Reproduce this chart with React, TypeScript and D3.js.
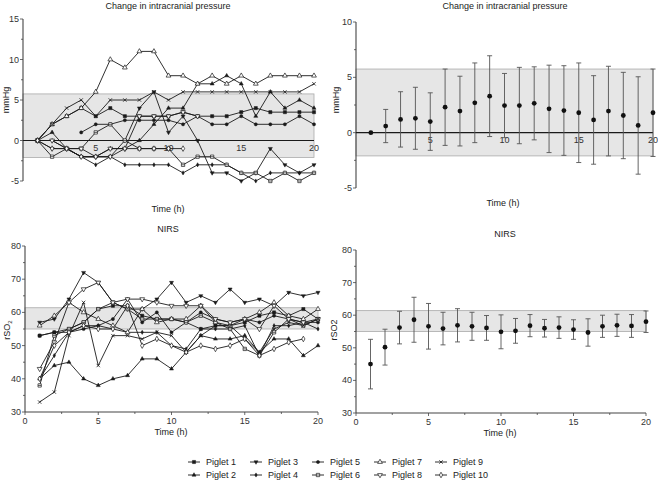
import React from "react";
import * as d3 from "d3";

const hours = d3.range(1, 21);

// change in ICP per piglet (mmHg), hours 1..20
const icp1 = [0, 2, 3, 4, 3, 4, 3, 3, 3, 3, 3.5, 3, 3, 3, 3.5, 4, 3.5, 3.5, 3.5, 3.5];
const icp2 = [0, 1, -1, -2, -2, -1, -1, 0, 2, 4, 4, 7, 7, 8, 7, 3, 6, 4, 5, 4];
const icp3 = [0, -1, -1, -2, -2, -2, 0, 4, 6, 1, 3, 0, -4, -4, -5, -4, -1, -3, -4, -3];
const icp4 = [0, 0, -1, -2, -3, -2, -3, -3, -3, -3, -4, -3, -3, -3, -4, -5, -4, -4, -4, -4];
const icp5 = [null, null, null, 1, 2, 2, 2.5, 2.5, 2.5, 2.5, 2, 3, 2, 2, 3, 2, 2, 2, 3, 2];
const icp6 = [0, -2, -1, -1, 1, 2, 0, -1, -1, -1, -3, -2, -2, -3, -4, -4, -5, -4, -5, -4];
const icp7 = [0, 2, 3, 4, 6, 10, 9, 11, 11, 8, 8, 7, 8, 7, 8, 7, 8, 8, 8, 8];
const icp8 = [0, 0, -1, -1, -2, -1, -1, 3, 3, 3, 3.5, 3, null, null, null, null, null, null, null, null];
const icp9 = [0, 2, 4, 5, 3, 5, 5, 5, 6, 5, 6, 6, 6, 6, 6, 6, 6, 6, 6, 7];
const icp10 = [0, -1, -1, -2, -2, -2, -1, -1, -1, -1, -1, null, null, null, null, null, null, null, null, null];

// NIRS rSO2 per piglet
const nirs1 = [53, 54, 55, 57, 61, 62, 62, 59, 58, 58, 57, 55, 56, 56, 57, 59, 60, 59, 61, 58];
const nirs2 = [40, 44, 45, 40, 38, 40, 41, 46, 46, 43, 48, 53, 52, 52, 53, 48, 52, 52, 47, 50];
const nirs3 = [57, 58, 64, 72, 69, 63, 61, 61, 64, 69, 63, 65, 63, 67, 63, 64, 62, 66, 65, 66];
const nirs4 = [40, 47, 54, 56, 56, 55, 54, 54, 54, 50, 49, 55, 55, 55, 56, 47, 56, 56, 57, 55];
const nirs5 = [53, 54, 54, 55, 56, 58, 64, 57, 60, 54, 57, 60, 58, 57, 58, 57, 59, 58, 57, 57];
const nirs6 = [38, 53, 55, 57, 61, 63, 61, 58, 58, 58, 57, 59, 57, 55, 49, 47, 54, 58, 56, 58];
const nirs7 = [56, 59, 63, 60, 58, 56, 54, 61, 57, 58, 58, 62, 57, 56, 58, 60, 63, 59, 58, 61];
const nirs8 = [43, 51, 63, 67, 69, 63, 64, 64, 63, 62, 62, 62, 58, 57, 58, 55, 62, 58, 57, 58];
const nirs9 = [33, 36, 53, 63, 44, 53, 53, 52, 54, 53, 48, 53, 56, 56, 52, 48, 55, 57, 56, 58];
const nirs10 = [40, 50, 54, 56, 55, 55, 62, 50, 52, 50, 48, 50, 49, 50, 52, 47, 49, 51, 52, null];

// group mean and SD
const icpMean = [0, 0.6, 1.2, 1.3, 1.0, 2.3, 1.95, 2.7, 3.3, 2.45, 2.45, 2.65, 2.15, 2.0, 1.8, 1.15, 1.95, 1.55, 0.65, 1.8];
const icpSd = [0, 1.5, 2.5, 2.8, 2.6, 3.45, 3.15, 3.6, 3.65, 2.9, 3.45, 3.3, 3.95, 4.05, 4.5, 4.0, 4.05, 3.9, 4.4, 3.95];
const nirsMean = [45, 50.2, 56.2, 58.6, 56.6, 55.9, 56.9, 56.6, 56.1, 54.9, 55.2, 56.8, 56, 56.2, 55.6, 54.7, 56.6, 56.9, 56.7, 58];
const nirsSd = [7.6, 5.5, 5, 6.9, 7, 5, 5.1, 4.3, 3.8, 5.2, 3.8, 3.4, 2.7, 3.3, 3, 4.2, 3.4, 3.4, 3.5, 3.3];

const piglets = ["Piglet 1", "Piglet 2", "Piglet 3", "Piglet 4", "Piglet 5", "Piglet 6", "Piglet 7", "Piglet 8", "Piglet 9", "Piglet 10"];
const icpSeries = [icp1, icp2, icp3, icp4, icp5, icp6, icp7, icp8, icp9, icp10];
const nirsSeries = [nirs1, nirs2, nirs3, nirs4, nirs5, nirs6, nirs7, nirs8, nirs9, nirs10];

const icpBand = [-2.1, 5.75];
const nirsBand = [55, 61.4];

const FONT = "Liberation Sans, Arial, sans-serif";
const INK = "#1a1a1a";

const Marker = ({ i, x, y }: { i: number; x: number; y: number }) => {
  const t = `translate(${x},${y})`;
  const filled = { fill: INK, stroke: INK, strokeWidth: 0.5 };
  const open = { fill: "#fff", stroke: INK, strokeWidth: 0.7 };
  switch (i) {
    case 0:
      return <path transform={t} d={d3.symbol(d3.symbolSquare, 10)()!} {...filled} />;
    case 1:
      return <path transform={t} d={d3.symbol(d3.symbolTriangle, 7)()!} {...filled} />;
    case 2:
      return <path transform={t + " rotate(180)"} d={d3.symbol(d3.symbolTriangle, 7)()!} {...filled} />;
    case 3:
      return <path transform={t} d={d3.symbol(d3.symbolDiamond, 5)()!} {...filled} />;
    case 4:
      return <path transform={t} d={d3.symbol(d3.symbolCircle, 8)()!} {...filled} />;
    case 5:
      return (
        <g transform={t}>
          <path d={d3.symbol(d3.symbolSquare, 11)()!} {...open} />
          <line x1={-1.6} x2={1.6} y1={0} y2={0} stroke={INK} strokeWidth={0.7} />
        </g>
      );
    case 6:
      return <path transform={t} d={d3.symbol(d3.symbolTriangle, 10)()!} {...open} />;
    case 7:
      return <path transform={t + " rotate(180)"} d={d3.symbol(d3.symbolTriangle, 10)()!} {...open} />;
    case 8:
      return <path transform={t} d={d3.symbol(d3.symbolX, 9)()!} fill="none" stroke={INK} strokeWidth={0.8} />;
    default:
      return <path transform={t} d={d3.symbol(d3.symbolDiamond, 9)()!} {...open} />;
  }
};

const YAxis = ({ y, x, ticks, minor }: { y: d3.ScaleLinear<number, number>; x: number; ticks: number[]; minor: number[] }) => (
  <g fontFamily={FONT} fontSize={9} fill="#333">
    <line x1={x} x2={x} y1={y.range()[0]} y2={y.range()[1]} stroke="#444" strokeWidth={1.1} />
    {minor.map((t) => (
      <line key={"m" + t} x1={x - 2} x2={x} y1={y(t)} y2={y(t)} stroke="#444" strokeWidth={0.8} />
    ))}
    {ticks.map((t) => (
      <g key={t}>
        <line x1={x - 3} x2={x} y1={y(t)} y2={y(t)} stroke="#444" strokeWidth={0.8} />
        <text x={x - 4} y={y(t) + 3} textAnchor="end">
          {t}
        </text>
      </g>
    ))}
  </g>
);

const XAxisZero = ({ x, y0 }: { x: d3.ScaleLinear<number, number>; y0: number }) => (
  <g fontFamily={FONT} fontSize={9} fill="#333">
    <line x1={x(0)} x2={x(20)} y1={y0} y2={y0} stroke={INK} strokeWidth={1.1} />
    {[5, 10, 15, 20].map((t) => (
      <text key={t} x={x(t)} y={y0 + 10} textAnchor="middle">
        {t}
      </text>
    ))}
  </g>
);

const XAxisBottom = ({ x, y0 }: { x: d3.ScaleLinear<number, number>; y0: number }) => (
  <g fontFamily={FONT} fontSize={9} fill="#333">
    <line x1={x(0)} x2={x(20)} y1={y0} y2={y0} stroke="#444" strokeWidth={1.1} />
    {d3.range(0, 20.1, 2.5).map((t) => (
      <line key={"m" + t} x1={x(t)} x2={x(t)} y1={y0} y2={y0 + (t % 5 === 0 ? 3 : 2)} stroke="#444" strokeWidth={0.8} />
    ))}
    {[0, 5, 10, 15, 20].map((t) => (
      <text key={t} x={x(t)} y={y0 + 12} textAnchor="middle">
        {t}
      </text>
    ))}
  </g>
);

const Band = ({ x, y, band }: { x: d3.ScaleLinear<number, number>; y: d3.ScaleLinear<number, number>; band: number[] }) => (
  <rect
    x={x(0)}
    width={x(20) - x(0)}
    y={y(band[1])}
    height={y(band[0]) - y(band[1])}
    fill="#e6e6e6"
    stroke="#aaa"
    strokeWidth={0.8}
  />
);

const Spaghetti = ({ x, y, series }: { x: d3.ScaleLinear<number, number>; y: d3.ScaleLinear<number, number>; series: (number | null)[][] }) => {
  const line = d3
    .line<number | null>()
    .defined((d) => d !== null)
    .x((_, i) => x(hours[i]))
    .y((d) => y(d as number));
  return (
    <g>
      {series.map((s, k) => (
        <path key={k} d={line(s)!} fill="none" stroke={INK} strokeWidth={0.9} />
      ))}
      {series.map((s, k) =>
        s.map((v, i) => (v === null ? null : <Marker key={k + "-" + i} i={k} x={x(hours[i])} y={y(v)} />))
      )}
    </g>
  );
};

const MeanSd = ({ x, y, mean, sd }: { x: d3.ScaleLinear<number, number>; y: d3.ScaleLinear<number, number>; mean: number[]; sd: number[] }) => (
  <g>
    {mean.map((m, i) => {
      const cx = x(hours[i]);
      const top = y(m + sd[i]);
      const bot = y(m - sd[i]);
      return (
        <g key={i}>
          {sd[i] > 0 && (
            <g stroke="#555" strokeWidth={0.9}>
              <line x1={cx} x2={cx} y1={top} y2={bot} />
              <line x1={cx - 2.5} x2={cx + 2.5} y1={top} y2={top} />
              <line x1={cx - 2.5} x2={cx + 2.5} y1={bot} y2={bot} />
            </g>
          )}
          <circle cx={cx} cy={y(m)} r={2.4} fill="#111" />
        </g>
      );
    })}
  </g>
);

const Title = ({ x, y, children }: { x: number; y: number; children: React.ReactNode }) => (
  <text x={x} y={y} textAnchor="middle" fontFamily={FONT} fontSize={9} fill="#222">
    {children}
  </text>
);

const YLabel = ({ x, y, children }: { x: number; y: number; children: React.ReactNode }) => (
  <text transform={`translate(${x},${y}) rotate(-90)`} textAnchor="middle" fontFamily={FONT} fontSize={9} fill="#222">
    {children}
  </text>
);

export default function App() {
  // top-left
  const xA = d3.scaleLinear().domain([0, 20]).range([23, 314]);
  const yA = d3.scaleLinear().domain([-5, 15]).range([181, 19]);
  // top-right
  const xB = d3.scaleLinear().domain([0, 20]).range([356, 653]);
  const yB = d3.scaleLinear().domain([-5, 10]).range([188, 22]);
  // bottom-left
  const xC = d3.scaleLinear().domain([0, 20]).range([25, 318]);
  const yC = d3.scaleLinear().domain([30, 80]).range([412, 246]);
  // bottom-right
  const xD = d3.scaleLinear().domain([0, 20]).range([356, 646]);
  const yD = d3.scaleLinear().domain([30, 80]).range([413, 250]);

  const legendCols = [194, 256, 318, 380, 441];
  const legendRows = [462, 475];

  return (
    <svg width={658} height={480} style={{ position: "absolute", left: 0, top: 0, background: "#fff" }}>
      {/* top-left */}
      <Title x={168} y={9}>Change in intracranial pressure</Title>
      <Band x={xA} y={yA} band={icpBand} />
      <YAxis y={yA} x={23} ticks={[-5, 0, 5, 10, 15]} minor={[-2.5, 2.5, 7.5, 12.5]} />
      <XAxisZero x={xA} y0={yA(0)} />
      <Spaghetti x={xA} y={yA} series={icpSeries} />
      <YLabel x={9} y={100}>mmHg</YLabel>
      <Title x={168} y={212}>Time (h)</Title>

      {/* top-right */}
      <Title x={505} y={9}>Change in intracranial pressure</Title>
      <Band x={xB} y={yB} band={icpBand} />
      <YAxis y={yB} x={356} ticks={[-5, 0, 5, 10]} minor={[-2.5, 2.5, 7.5]} />
      <XAxisZero x={xB} y0={yB(0)} />
      <MeanSd x={xB} y={yB} mean={icpMean} sd={icpSd} />
      <YLabel x={339} y={100}>mmHg</YLabel>
      <Title x={503} y={206}>Time (h)</Title>

      {/* bottom-left */}
      <Title x={168} y={232}>NIRS</Title>
      <Band x={xC} y={yC} band={nirsBand} />
      <YAxis y={yC} x={25} ticks={[30, 40, 50, 60, 70, 80]} minor={[35, 45, 55, 65, 75]} />
      <XAxisBottom x={xC} y0={412} />
      <Spaghetti x={xC} y={yC} series={nirsSeries} />
      <text transform="translate(10,330) rotate(-90)" textAnchor="middle" fontFamily={FONT} fontSize={9} fill="#222">
        rSO<tspan fontSize={6} dy={2}>2</tspan>
      </text>
      <Title x={171} y={435}>Time (h)</Title>

      {/* bottom-right */}
      <Title x={505} y={237}>NIRS</Title>
      <Band x={xD} y={yD} band={nirsBand} />
      <YAxis y={yD} x={356} ticks={[30, 40, 50, 60, 70, 80]} minor={[35, 45, 55, 65, 75]} />
      <XAxisBottom x={xD} y0={413} />
      <MeanSd x={xD} y={yD} mean={nirsMean} sd={nirsSd} />
      <YLabel x={337} y={330}>rSO2</YLabel>
      <Title x={500} y={436}>Time (h)</Title>

      {/* legend */}
      {piglets.map((name, k) => {
        const cx = legendCols[Math.floor(k / 2)];
        const cy = legendRows[k % 2];
        return (
          <g key={name}>
            <line x1={cx - 6} x2={cx + 6} y1={cy} y2={cy} stroke={INK} strokeWidth={0.9} />
            <Marker i={k} x={cx} y={cy} />
            <text x={cx + 12} y={cy + 3} fontFamily={FONT} fontSize={9} fill="#222">
              {name}
            </text>
          </g>
        );
      })}
    </svg>
  );
}
